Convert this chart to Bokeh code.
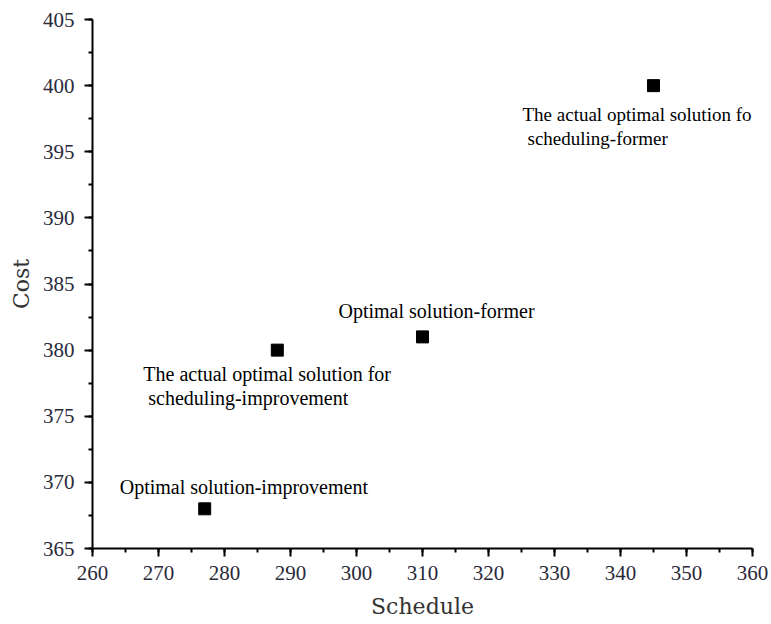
from bokeh.plotting import figure
from bokeh.models import ColumnDataSource, Range1d, SingleIntervalTicker, LabelSet
from bokeh.core.properties import value
from bokeh.embed import file_html
from bokeh.resources import INLINE

# data
schedule = [277, 288, 310, 345]
cost = [368, 380, 381, 400]
labels_line1 = ["Optimal solution-improvement", "The actual optimal solution for",
                "Optimal solution-former", "The actual optimal solution fo"]
labels_line2 = ["", "scheduling-improvement", "", "scheduling-former"]

p = figure(frame_width=660, frame_height=529, output_backend="svg", toolbar_location=None,
           x_range=Range1d(260, 360), y_range=Range1d(365, 405),
           min_border_left=92, min_border_right=19, min_border_top=19, min_border_bottom=75)
p.outline_line_color = None
p.xgrid.visible = False
p.ygrid.visible = False

src = ColumnDataSource(dict(x=schedule, y=cost, l1=labels_line1, l2=labels_line2,
                            dx1=[-85, -134, -84, -131], dy1=[22, -24, 26, -29],
                            dx2=[0, -129, 0, -126], dy2=[0, -48, 0, -53],
                            fs=["20px", "20px", "20px", "19px"]))
p.scatter("x", "y", source=src, marker="square", size=12, color="black")
for t, dx, dy in (("l1", "dx1", "dy1"), ("l2", "dx2", "dy2")):
    ls = LabelSet(x="x", y="y", text=t, source=src, x_offset=dx, y_offset=dy,
                  text_font=value("Liberation Serif"), text_font_size="fs",
                  text_baseline="middle", text_align="left", text_color="black")
    p.add_layout(ls)

p.xaxis.ticker = SingleIntervalTicker(interval=10, num_minor_ticks=2)
p.yaxis.ticker = SingleIntervalTicker(interval=5, num_minor_ticks=2)
for ax in (p.xaxis[0], p.yaxis[0]):
    ax.axis_line_width = 2
    ax.axis_line_color = "black"
    ax.major_tick_line_width = 2
    ax.minor_tick_line_width = 2
    ax.major_tick_line_color = "black"
    ax.minor_tick_line_color = "black"
    ax.major_tick_out = 8
    ax.major_tick_in = 0
    ax.minor_tick_out = 4
    ax.minor_tick_in = 0
    ax.major_label_text_font = "Liberation Serif"
    ax.major_label_text_font_size = "21px"
    ax.major_label_text_color = "#2a2a3a"
    ax.axis_label_text_font = "DejaVu Serif"
    ax.axis_label_text_font_size = "22px"
    ax.axis_label_text_font_style = "normal"
    ax.axis_label_text_color = "#333333"
p.xaxis.major_label_standoff = 9
p.yaxis.major_label_standoff = 10
p.xaxis.axis_label = "Schedule"
p.yaxis.axis_label = "Cost"
p.xaxis.axis_label_standoff = 11
p.yaxis.axis_label_standoff = 6

open("out.html", "w").write(file_html(p, INLINE))
